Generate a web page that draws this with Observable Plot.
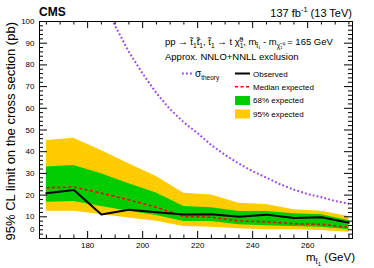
<!DOCTYPE html>
<html><head><meta charset="utf-8">
<script src="https://cdn.jsdelivr.net/npm/d3@7"></script>
<script src="https://cdn.jsdelivr.net/npm/@observablehq/plot@0.6"></script>
<style>body{margin:0;background:#fff} svg{display:block}</style>
</head><body><div id="chart"></div>
<script>
// ---- data ----
const mass      = [165, 175, 185, 195, 205, 215, 225, 235, 245, 255, 265, 275];
const observed  = [20.9, 22.4, 11.1, 13.2, 12.1, 11.1, 11.2, 10.0, 11.0, 9.4, 9.8, 7.3];
const expected  = [23.4, 23.7, 20.9, 17.8, 14.4, 10.1, 9.8, 8.1, 7.7, 6.8, 6.5, 5.2];
const exp68Hi   = [32.9, 33.6, 29.8, 25.2, 21.0, 14.7, 14.2, 12.4, 12.4, 11.4, 10.9, 8.3];
const exp68Lo   = [16.7, 17.1, 14.7, 12.6, 10.6, 7.8, 7.8, 6.3, 5.9, 5.5, 5.2, 4.0];
const exp95Hi   = [45.2, 46.2, 40.5, 34.4, 28.6, 20.9, 20.0, 16.3, 15.7, 13.2, 12.6, 10.1];
const exp95Lo   = [12.6, 12.6, 11.1, 9.4, 8.0, 5.5, 5.2, 4.5, 4.0, 4.0, 3.7, 2.9];
const theoryMass = [185, 190, 195, 200, 205, 210, 215, 220, 225, 230, 235, 240, 245, 250, 255, 260, 265, 270, 275];
const theoryXsec = [113, 98, 86, 76, 67, 59.5, 53.5, 48.5, 43, 38.5, 34.5, 31, 28, 25, 22.5, 20.5, 19, 17.3, 16];
const xTicks = [180, 200, 220, 240, 260];
const yTicks = [0, 10, 20, 30, 40, 50, 60, 70, 80, 90, 100];

// ---- layout ----
const W = 374, H = 268, mL = 39, mR = 22, mT = 21, mB = 30;
const innerW = W - mL - mR, innerH = H - mT - mB;
const font = "'Liberation Sans', Arial, Helvetica, sans-serif";
const cTheory = "#9b45e4", cGreen = "#00cc00", cYellow = "#ffcc00";

const rows = mass.map((m, i) => ({m, obs: observed[i], exp: expected[i],
  lo68: exp68Lo[i], hi68: exp68Hi[i], lo95: exp95Lo[i], hi95: exp95Hi[i]}));
const theory = theoryMass.map((m, i) => ({m, s: theoryXsec[i]}));
const xMinor = d3.range(165, 276, 5).filter(v => !xTicks.includes(v));
const yMinor = d3.range(0, 101, 2).filter(v => v % 10 !== 0);

const svg = Plot.plot({
  width: W, height: H, marginLeft: mL, marginRight: mR, marginTop: mT, marginBottom: mB,
  style: {fontFamily: font, fontSize: "8px", background: "white", color: "black", overflow: "visible"},
  x: {domain: [162.5, 276.3]},
  y: {domain: [0, 100]},
  marks: [
    Plot.areaY(rows, {x: "m", y1: "lo95", y2: "hi95", fill: cYellow}),
    Plot.areaY(rows, {x: "m", y1: "lo68", y2: "hi68", fill: cGreen}),
    Plot.line(theory, {x: "m", y: "s", stroke: cTheory, strokeWidth: 2, strokeDasharray: "1.8,2.2", strokeLinecap: "butt", clip: true}),
    Plot.line(rows, {x: "m", y: "exp", stroke: "#ff0000", strokeWidth: 1.6, strokeDasharray: "3,2.5", strokeLinecap: "butt"}),
    Plot.line(rows, {x: "m", y: "obs", stroke: "black", strokeWidth: 2}),
    // inward ticks, ROOT style
    Plot.tickX(xTicks, {x: d => d, insetTop: innerH - 7, stroke: "black"}),
    Plot.tickX(xTicks, {x: d => d, insetBottom: innerH - 7, stroke: "black"}),
    Plot.tickX(xMinor, {x: d => d, insetTop: innerH - 3.5, stroke: "black"}),
    Plot.tickX(xMinor, {x: d => d, insetBottom: innerH - 3.5, stroke: "black"}),
    Plot.tickY(yTicks, {y: d => d, insetRight: innerW - 8, stroke: "black"}),
    Plot.tickY(yTicks, {y: d => d, insetLeft: innerW - 8, stroke: "black"}),
    Plot.tickY(yMinor, {y: d => d, insetRight: innerW - 4, stroke: "black"}),
    Plot.tickY(yMinor, {y: d => d, insetLeft: innerW - 4, stroke: "black"}),
    Plot.frame({stroke: "black"}),
    Plot.axisX({ticks: xTicks, tickSize: 0, tickPadding: 4, label: null, fontSize: 8}),
    Plot.axisY({ticks: yTicks.filter(v => v > 0), tickSize: 0, tickPadding: 5, label: null, fontSize: 8}),
    Plot.text([0], {frameAnchor: "left", y: d => d, dx: -5, dy: -9, textAnchor: "end", fontSize: 8})
  ]
});
document.getElementById("chart").appendChild(svg);

// ---- annotations and legend ----
const s = d3.select(svg);
const g = s.append("g").attr("font-family", font).attr("fill", "black").attr("text-anchor", "start");

g.append("text").attr("x", 39).attr("y", 16).attr("font-size", 12).attr("font-weight", "bold").text("CMS");
const lumi = g.append("text").attr("x", 352).attr("y", 16.5).attr("text-anchor", "end").attr("font-size", 11);
lumi.append("tspan").text("137 fb");
lumi.append("tspan").attr("font-size", 7.5).attr("dy", -4.5).text("-1");
lumi.append("tspan").attr("dy", 4.5).text(" (13 TeV)");

function rich(t, parts) {
  for (const [txt, kind] of parts) {
    const sp = t.append("tspan").text(txt);
    if (kind === "sub") sp.attr("font-size", "0.7em").attr("dy", 2.5);
    else if (kind === "up") sp.attr("dy", -2.5);
    else if (kind === "subsup") sp.attr("font-size", "0.7em").attr("dy", -6).attr("dx", -4);
    else if (kind === "down") sp.attr("dy", 3.5);
  }
}
const proc = g.append("text").attr("x", 165).attr("y", 45).attr("font-size", 9.5);
rich(proc, [
  ["pp \u2192 t\u0303", null], ["1", "sub"], ["t\u0303\u0304", "up"], ["1", "sub"],
  [", t\u0303", "up"], ["1", "sub"], [" \u2192 t \u03c7\u0303", "up"], ["1", "sub"], ["0", "subsup"],
  [", m", "down"], ["t\u0303\u2081", "sub"], [" - m", "up"], ["\u03c7\u0303\u2081\u2070", "sub"], [" = 165 GeV", "up"]
]);
g.append("text").attr("x", 165).attr("y", 60).attr("font-size", 9.5).text("Approx. NNLO+NNLL exclusion");

// legend
g.append("line").attr("x1", 182).attr("x2", 192).attr("y1", 73.5).attr("y2", 73.5)
  .attr("stroke", cTheory).attr("stroke-width", 2).attr("stroke-dasharray", "1.8,2.2");
const sig = g.append("text").attr("x", 195).attr("y", 76.5).attr("font-size", 10);
sig.append("tspan").text("\u03c3");
sig.append("tspan").attr("font-size", 6.5).attr("dy", 3).text("theory");

g.append("line").attr("x1", 235).attr("x2", 250).attr("y1", 73.5).attr("y2", 73.5)
  .attr("stroke", "black").attr("stroke-width", 2);
g.append("text").attr("x", 253).attr("y", 76.5).attr("font-size", 8).text("Observed");
g.append("line").attr("x1", 235).attr("x2", 250).attr("y1", 86.7).attr("y2", 86.7)
  .attr("stroke", "#ff0000").attr("stroke-width", 1.6).attr("stroke-dasharray", "3,2.5");
g.append("text").attr("x", 253).attr("y", 89.7).attr("font-size", 8).text("Median expected");
g.append("rect").attr("x", 235).attr("y", 96).attr("width", 15).attr("height", 9).attr("fill", cGreen);
g.append("text").attr("x", 253).attr("y", 103.3).attr("font-size", 8).text("68% expected");
g.append("rect").attr("x", 235).attr("y", 109.5).attr("width", 15).attr("height", 9).attr("fill", cYellow);
g.append("text").attr("x", 253).attr("y", 116.8).attr("font-size", 8).text("95% expected");

// axis titles
const xt = g.append("text").attr("x", 355).attr("y", 261).attr("text-anchor", "end").attr("font-size", 11.5);
xt.append("tspan").text("m");
xt.append("tspan").attr("font-size", 8).attr("dy", 3).text("t\u0303");
xt.append("tspan").attr("font-size", 6).attr("dy", 2).text("1");
xt.append("tspan").attr("dy", -5).text(" (GeV)");
g.append("text").attr("transform", "translate(15,22) rotate(-90)").attr("text-anchor", "end")
  .attr("font-size", 13).text("95% CL limit on the cross section (pb)");
</script>
</body></html>
